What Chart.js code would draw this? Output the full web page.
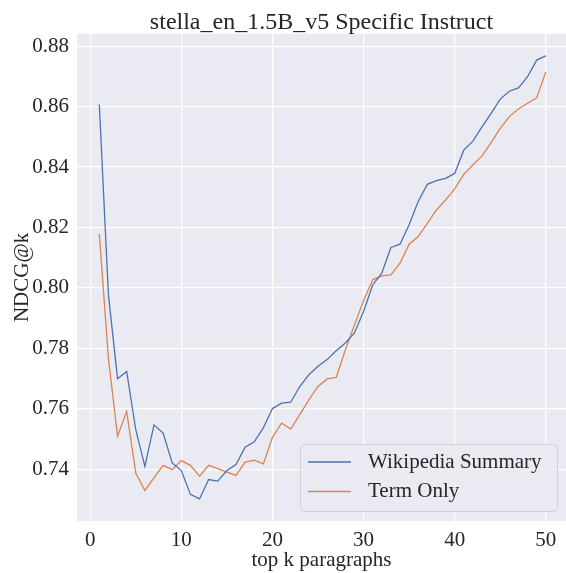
<!DOCTYPE html>
<html>
<head>
<meta charset="utf-8">
<script src="https://cdn.jsdelivr.net/npm/chart.js@4.4.1/dist/chart.umd.min.js"></script>
<style>
    body { margin: 0; background: #ffffff; }
    #wrap { width: 566px; height: 573px; }
</style>
</head>
<body>
<div id="wrap"><canvas id="ndcgChart" width="566" height="573"></canvas></div>
<script>
const topK = [1, 2, 3, 4, 5, 6, 7, 8, 9, 10, 11, 12, 13, 14, 15, 16, 17, 18, 19, 20,
    21, 22, 23, 24, 25, 26, 27, 28, 29, 30, 31, 32, 33, 34, 35, 36, 37, 38, 39, 40,
    41, 42, 43, 44, 45, 46, 47, 48, 49, 50];

const wikipediaSummary = [0.8607, 0.7977, 0.7700, 0.7724, 0.7531, 0.7410, 0.7547, 0.7520, 0.7421, 0.7396,
    0.7317, 0.7302, 0.7366, 0.7361, 0.7396, 0.7416, 0.7473, 0.7491, 0.7537, 0.7601,
    0.7619, 0.7622, 0.7674, 0.7713, 0.7741, 0.7763, 0.7792, 0.7818, 0.7851, 0.7922,
    0.8010, 0.8049, 0.8134, 0.8145, 0.8209, 0.8286, 0.8343, 0.8355, 0.8363, 0.8379,
    0.8456, 0.8486, 0.8533, 0.8578, 0.8625, 0.8651, 0.8662, 0.8699, 0.8754, 0.8768];

const termOnly = [0.8179, 0.7767, 0.7509, 0.7592, 0.7388, 0.7330, 0.7372, 0.7413, 0.7399, 0.7429,
    0.7413, 0.7377, 0.7413, 0.7402, 0.7391, 0.7380, 0.7424, 0.7430, 0.7418, 0.7506,
    0.7553, 0.7533, 0.7581, 0.7630, 0.7674, 0.7699, 0.7704, 0.7795, 0.7878, 0.7958,
    0.8027, 0.8040, 0.8043, 0.8082, 0.8145, 0.8170, 0.8214, 0.8258, 0.8291, 0.8328,
    0.8376, 0.8407, 0.8437, 0.8481, 0.8528, 0.8567, 0.8592, 0.8611, 0.8629, 0.8715];

const xTicks = [0, 10, 20, 30, 40, 50];
const yTicks = [0.74, 0.76, 0.78, 0.80, 0.82, 0.84, 0.86, 0.88];

const textColor = '#262626';
const fontFamily = '"Liberation Serif", "Times New Roman", serif';

function toPoints(values){
    let pts = [];
    for(let i = 0; i < values.length; i++){
        pts.push({x: topK[i], y: values[i]});
    }
    return pts;
}

// seaborn style background for the axes
const axesBackground = {
    id: 'axesBackground',
    beforeDraw(chart){
        const a = chart.chartArea;
        const ctx = chart.ctx;
        ctx.save();
        ctx.fillStyle = '#EAEAF2';
        ctx.fillRect(a.left, a.top, a.right - a.left, a.bottom - a.top);
        ctx.restore();
    }
};

// legend in the lower right corner, drawn inside the axes
const insideLegend = {
    id: 'insideLegend',
    afterDraw(chart){
        const ctx = chart.ctx;
        const a = chart.chartArea;
        const boxW = 257, boxH = 67;
        const x0 = a.right - 9 - boxW;
        const y0 = a.bottom - 10 - boxH;
        ctx.save();
        ctx.beginPath();
        ctx.roundRect(x0 + 0.5, y0 + 0.5, boxW, boxH, 4);
        ctx.fillStyle = 'rgba(234,234,242,0.8)';
        ctx.fill();
        ctx.strokeStyle = 'rgba(204,204,204,0.8)';
        ctx.lineWidth = 1;
        ctx.stroke();
        ctx.font = '21px ' + fontFamily;
        ctx.textBaseline = 'middle';
        chart.data.datasets.forEach(function(ds, i){
            const cy = y0 + 18 + i * 29.5;
            ctx.beginPath();
            ctx.moveTo(x0 + 8, cy);
            ctx.lineTo(x0 + 51, cy);
            ctx.strokeStyle = ds.borderColor;
            ctx.lineWidth = 1.3;
            ctx.stroke();
            ctx.fillStyle = textColor;
            ctx.fillText(ds.label, x0 + 68, cy);
        });
        ctx.restore();
    }
};

const ndcgData = {
    datasets: [{
        label: 'Wikipedia Summary',
        data: toPoints(wikipediaSummary),
        borderColor: '#4C72B0',
        borderWidth: 1.3,
        pointRadius: 0,
        tension: 0
    }, {
        label: 'Term Only',
        data: toPoints(termOnly),
        borderColor: '#DD8452',
        borderWidth: 1.3,
        pointRadius: 0,
        tension: 0
    }]
};

const ndcgConfig = {
    type: 'line',
    data: ndcgData,
    options: {
        responsive: false,
        animation: false,
        layout: {
            padding: { left: 0, right: 0, top: 0, bottom: 0 }
        },
        plugins: {
            legend: { display: false },
            tooltip: { enabled: false },
            title: {
                display: true,
                fullSize: false,
                text: 'stella_en_1.5B_v5 Specific Instruct',
                color: textColor,
                font: { family: fontFamily, size: 24, weight: 'normal' },
                padding: { top: 8, bottom: -3 }
            }
        },
        scales: {
            x: {
                type: 'linear',
                min: -1.45,
                max: 52.22,
                afterBuildTicks: function(axis){
                    axis.ticks = xTicks.map(v => ({value: v}));
                },
                afterFit: function(axis){
                    axis.height = 52;
                },
                grid: { color: '#ffffff', lineWidth: 1.2, drawTicks: false },
                border: { display: false },
                ticks: {
                    color: textColor,
                    padding: 7,
                    maxRotation: 0,
                    font: { family: fontFamily, size: 21 }
                },
                title: {
                    display: true,
                    text: 'top k paragraphs',
                    color: textColor,
                    padding: { top: 0, bottom: 0 },
                    font: { family: fontFamily, size: 21 }
                }
            },
            y: {
                min: 0.7229,
                max: 0.8841,
                afterBuildTicks: function(axis){
                    axis.ticks = yTicks.map(v => ({value: v}));
                },
                afterFit: function(axis){
                    axis.width = 77;
                },
                grid: { color: '#ffffff', lineWidth: 1.2, drawTicks: false },
                border: { display: false },
                ticks: {
                    color: textColor,
                    padding: 8,
                    font: { family: fontFamily, size: 21 },
                    callback: function(v){ return v.toFixed(2); }
                },
                title: {
                    display: true,
                    text: 'NDCG@k',
                    color: textColor,
                    padding: { top: 10, bottom: 0 },
                    font: { family: fontFamily, size: 21 }
                }
            }
        }
    },
    plugins: [axesBackground, insideLegend]
};

var ndcgChart = new Chart(
    document.getElementById('ndcgChart'),
    ndcgConfig
);
</script>
</body>
</html>
